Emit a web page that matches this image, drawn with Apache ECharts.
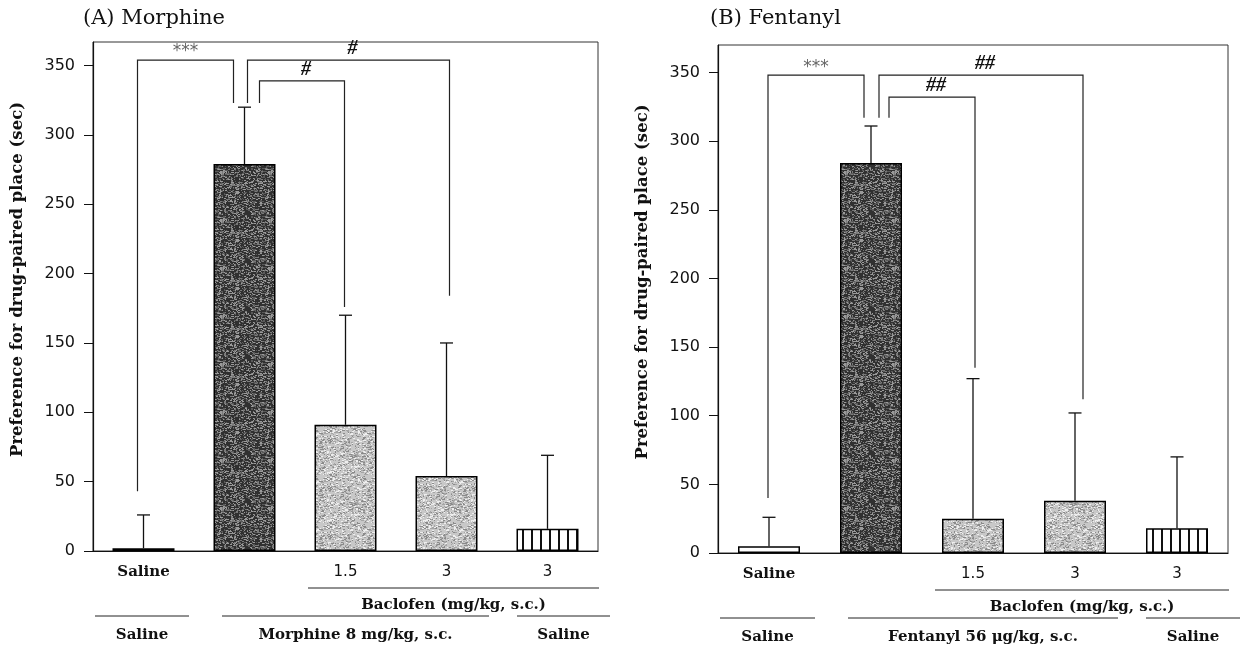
<!DOCTYPE html>
<html>
<head>
<meta charset="utf-8">
<script src="https://cdn.jsdelivr.net/npm/echarts@6/dist/echarts.min.js"></script>
<style>
  html, body { margin: 0; padding: 0; background: #ffffff; }
  #chart { width: 1241px; height: 648px; }
</style>
</head>
<body>
<div id="chart"></div>
<script>
  // ---------- data ----------
  var titleA = '(A) Morphine';
  var titleB = '(B) Fentanyl';
  var yName = 'Preference for drug-paired place (sec)';
  var doseGroupName = 'Baclofen (mg/kg, s.c.)';
  var yTicks = [0, 50, 100, 150, 200, 250, 300, 350];

  var groupsA = ['Saline', 'Morphine', 'Morphine + Baclofen 1.5', 'Morphine + Baclofen 3', 'Saline + Baclofen 3'];
  var doseLabelsA = ['Saline', '', '1.5', '3', '3'];
  var meansA = [2, 279, 91, 54, 16];
  var upperA = [26, 320, 170, 150, 69];   // mean + SEM

  var groupsB = ['Saline', 'Fentanyl', 'Fentanyl + Baclofen 1.5', 'Fentanyl + Baclofen 3', 'Saline + Baclofen 3'];
  var doseLabelsB = ['Saline', '', '1.5', '3', '3'];
  var meansB = [5, 284, 25, 38, 18];
  var upperB = [26, 311, 127, 102, 70];

  // significance brackets: [fromCat, toCat, top, leftLegEnd, rightLegEnd]
  var bracketsA = [[0, 1, 354, 43, 323], [1, 3, 354, 323, 184], [1, 2, 339, 323, 176]];
  var marksA = ['***', '#', '#'];
  var bracketsB = [[0, 1, 348, 40, 317], [1, 3, 348, 317, 112], [1, 2, 332, 317, 135]];
  var marksB = ['***', '##', '##'];

  // treatment rows under the axis: [label, fromCat, toCat]
  var treatA = [['Saline', 0, 0], ['Morphine 8 mg/kg, s.c.', 1, 3], ['Saline', 4, 4]];
  var treatB = [['Saline', 0, 0], ['Fentanyl 56 \u03bcg/kg, s.c.', 1, 3], ['Saline', 4, 4]];
  var doseSpan = [2, 4];

  var yMaxA = 367, yMaxB = 370;

  // ---------- styles ----------
  var fillKeys = ['white', 'dark', 'light', 'light', 'stripe'];
  var legOffsA = [[-6, -11], [3, 3], [15, -1]];
  var legOffsB = [[-1, -7], [8, 8], [18, 2]];
  var treatInsets = [[2, -5], [28, -8], [20, 12]];
  var ink = '#111';

  function speckle(base, cols, seed, count) {
    var c = document.createElement('canvas');
    c.width = 48; c.height = 48;
    var ctx = c.getContext('2d');
    ctx.fillStyle = base;
    ctx.fillRect(0, 0, 48, 48);
    var s = seed;
    function next() { s = (s * 16807) % 2147483647; return s / 2147483647; }
    for (var k = 0; k < count; k++) {
      ctx.fillStyle = cols[k % cols.length];
      ctx.fillRect(Math.floor(next() * 48), Math.floor(next() * 48), 1 + Math.floor(next() * 2), 1);
    }
    return c;
  }
  function stripes() {
    var c = document.createElement('canvas');
    c.width = 9; c.height = 4;
    var ctx = c.getContext('2d');
    ctx.fillStyle = '#fff'; ctx.fillRect(0, 0, 9, 4);
    ctx.fillStyle = '#111'; ctx.fillRect(0, 0, 2, 4);
    return c;
  }
  var fills = {
    white: '#ffffff',
    dark: { image: speckle('#303030', ['#7a7a7a', '#9a9a9a', '#5a5a5a'], 1234, 1000), repeat: 'repeat' },
    light: { image: speckle('#c8c8c8', ['#8a8a8a', '#eeeeee', '#a5a5a5'], 987, 900), repeat: 'repeat' },
    stripe: { image: stripes(), repeat: 'repeat' }
  };

  var myChart = echarts.init(document.getElementById('chart'), null, { renderer: 'canvas' });

  function xAxisCfg(g, cats, labels) {
    return {
      type: 'category', gridIndex: g, data: cats,
      axisLine: { lineStyle: { color: ink, width: 1.2 } },
      axisTick: { show: false },
      axisLabel: {
        interval: 0, margin: 14,
        formatter: function (v, i) { return i === 0 ? '{b|' + labels[i] + '}' : '{n|' + labels[i] + '}'; },
        rich: {
          b: { fontFamily: 'DejaVu Serif', fontWeight: 'bold', fontSize: 15, color: ink },
          n: { fontFamily: 'DejaVu Sans', fontSize: 15, color: ink }
        }
      },
      splitLine: { show: false }
    };
  }
  function yAxisCfg(g, max) {
    return {
      type: 'value', gridIndex: g, min: 0, max: max, interval: 50,
      name: yName, nameLocation: 'middle', nameGap: 67, nameRotate: 90,
      nameTextStyle: { fontFamily: 'DejaVu Serif', fontWeight: 'bold', fontSize: 16.5, color: ink, padding: [0, 0, 0, 34] },
      axisLine: { show: true, lineStyle: { color: ink, width: 1.2 } },
      axisTick: { show: true, length: 9, customValues: yTicks, lineStyle: { color: ink } },
      axisLabel: {
        margin: 18, fontFamily: 'DejaVu Sans', fontSize: 16, color: ink, customValues: yTicks,
        formatter: function (v) { return v % 50 === 0 ? String(v) : ''; }
      },
      splitLine: { show: false }
    };
  }
  function barSeries(g, means) {
    return {
      type: 'bar', xAxisIndex: g, yAxisIndex: g, barWidth: 62, z: 2,
      data: means.map(function (v, i) {
        return { value: v, itemStyle: { color: fills[fillKeys[i]], borderColor: '#000', borderWidth: 1.5 } };
      })
    };
  }
  function errSeries(g, means, upper) {
    return {
      type: 'custom', xAxisIndex: g, yAxisIndex: g, z: 3,
      encode: { x: 0, y: [1, 2] },
      data: means.map(function (m, i) { return [i, m, upper[i]]; }),
      renderItem: function (params, api) {
        var base = api.coord([api.value(0), api.value(1)]);
        var top = api.coord([api.value(0), api.value(2)]);
        var st = { stroke: ink, lineWidth: 1.3 };
        return { type: 'group', children: [
          { type: 'line', shape: { x1: base[0], y1: base[1], x2: top[0], y2: top[1] }, style: st },
          { type: 'line', shape: { x1: top[0] - 6.5, y1: top[1], x2: top[0] + 6.5, y2: top[1] }, style: st }
        ] };
      }
    };
  }
  function bracketSeries(g, rows, marks, offs) {
    return {
      type: 'custom', xAxisIndex: g, yAxisIndex: g, z: 4,
      encode: { x: [0, 1], y: [2, 3, 4] },
      data: rows,
      renderItem: function (params, api) {
        var o = offs[params.dataIndex];
        var pl = api.coord([api.value(0), api.value(2)]);
        var pr = api.coord([api.value(1), api.value(2)]);
        var lb = api.coord([api.value(0), api.value(3)]);
        var rb = api.coord([api.value(1), api.value(4)]);
        var xl = pl[0] + o[0], xr = pr[0] + o[1];
        var mark = marks[params.dataIndex];
        var star = mark.indexOf('*') >= 0;
        return { type: 'group', children: [
          { type: 'polyline', shape: { points: [[xl, lb[1]], [xl, pl[1]], [xr, pl[1]], [xr, rb[1]]] },
            style: { stroke: '#222', lineWidth: 1.2, fill: null } },
          { type: 'text', x: (xl + xr) / 2 + (star ? 0 : 4), y: pl[1] - (star ? 8 : 11),
            style: { text: mark, align: 'center', verticalAlign: 'middle',
              fontFamily: star ? 'DejaVu Sans' : 'Liberation Serif', fontStyle: star ? 'normal' : 'italic',
              fontWeight: star ? 'normal' : 'bold',
              fontSize: star ? 17 : 20, fill: star ? '#666' : ink } }
        ] };
      }
    };
  }

  myChart.setOption({
    backgroundColor: '#ffffff',
    animation: false,
    title: [
      { text: titleA, left: 83, top: 8, padding: 0, textStyle: { fontFamily: 'DejaVu Serif', fontWeight: 'normal', fontSize: 21, color: ink } },
      { text: titleB, left: 710, top: 8, padding: 0, textStyle: { fontFamily: 'DejaVu Serif', fontWeight: 'normal', fontSize: 21, color: ink } }
    ],
    grid: [
      { left: 93, right: 643, top: 42, bottom: 97, show: true, borderColor: '#333', borderWidth: 1, outerBoundsMode: 'none' },
      { left: 718, right: 13, top: 45, bottom: 95, show: true, borderColor: '#333', borderWidth: 1, outerBoundsMode: 'none' }
    ],
    xAxis: [xAxisCfg(0, groupsA, doseLabelsA), xAxisCfg(1, groupsB, doseLabelsB)],
    yAxis: [yAxisCfg(0, yMaxA), yAxisCfg(1, yMaxB)],
    series: [
      barSeries(0, meansA), errSeries(0, meansA, upperA), bracketSeries(0, bracketsA, marksA, legOffsA),
      barSeries(1, meansB), errSeries(1, meansB, upperB), bracketSeries(1, bracketsB, marksB, legOffsB)
    ]
  });

  // group labels under the axis, placed from the category positions
  function groupGraphics(g, treat) {
    var c0 = myChart.convertToPixel({ gridIndex: g }, [0, 0]);
    var c1 = myChart.convertToPixel({ gridIndex: g }, [1, 0]);
    var w = c1[0] - c0[0];
    var zy = c0[1];
    function bandL(i) { return c0[0] + (i - 0.5) * w; }
    function bandR(i) { return c0[0] + (i + 0.5) * w; }
    var out = [];
    var serifBold = { fontFamily: 'DejaVu Serif', fontWeight: 'bold', fontSize: 15, fill: ink, align: 'center', verticalAlign: 'middle' };
    var dl = bandL(doseSpan[0]) + 13, dr = bandR(doseSpan[1]) + 1;
    out.push({ type: 'line', shape: { x1: dl, y1: zy + 37, x2: dr, y2: zy + 37 }, style: { stroke: '#222', lineWidth: 1 } });
    out.push({ type: 'text', x: (dl + dr) / 2, y: zy + 54, style: echarts.util.extend({ text: doseGroupName }, serifBold) });
    treat.forEach(function (t, k) {
      var l = bandL(t[1]) + treatInsets[k][0], r = bandR(t[2]) + treatInsets[k][1];
      out.push({ type: 'line', shape: { x1: l, y1: zy + 65, x2: r, y2: zy + 65 }, style: { stroke: '#222', lineWidth: 1 } });
      out.push({ type: 'text', x: (l + r) / 2, y: zy + 84, style: echarts.util.extend({ text: t[0] }, serifBold) });
    });
    return out;
  }
  myChart.setOption({ graphic: groupGraphics(0, treatA).concat(groupGraphics(1, treatB)) });
</script>
</body>
</html>
